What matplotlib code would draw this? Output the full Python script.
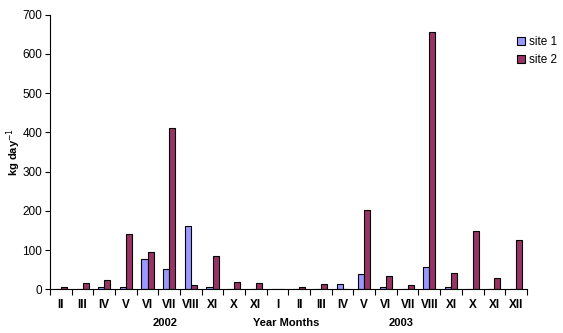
import matplotlib
matplotlib.use('Agg')
from matplotlib import pyplot as plt
import numpy as np

plt.rcParams['font.family'] = ['Liberation Sans', 'DejaVu Sans']

months = ['II', 'III', 'IV', 'V', 'VI', 'VII', 'VIII', 'XI', 'X', 'XI',
          'I', 'II', 'III', 'IV', 'V', 'VI', 'VII', 'VIII', 'XI', 'X', 'XI', 'XII']
site1 = [0, 0, 7, 7, 78, 53, 162, 7, 0, 0,
         2, 1, 2, 13, 38, 7, 1, 56, 5, 0, 0, 0]
site2 = [7, 17, 25, 140, 94, 411, 10, 86, 18, 15,
         1, 7, 13, 2, 201, 33, 10, 657, 41, 148, 28, 125]

x = np.arange(len(months))
w = 0.28

fig = plt.figure(figsize=(5.63, 3.33), dpi=100)
ax = fig.add_axes([0.0888, 0.131, 0.847, 0.825])

ax.bar(x - w/2, site1, w, color='#9999FF', edgecolor='black', linewidth=0.8, label='site 1')
ax.bar(x + w/2, site2, w, color='#993366', edgecolor='black', linewidth=0.8, label='site 2')

ax.set_xlim(-0.5, len(months) - 0.5)
ax.set_ylim(0, 700)
ax.set_yticks(range(0, 701, 100))
ax.tick_params(axis='y', labelsize=8.5, length=3.5, width=0.8, pad=2)

# month labels sit between boundary ticks
ax.set_xticks(np.arange(-0.5, len(months), 1))
ax.set_xticklabels([])
ax.tick_params(axis='x', length=4, width=0.8)
for i, m in enumerate(months):
    ax.text(i, -0.035, m, transform=ax.get_xaxis_transform(), ha='center', va='top',
            fontsize=8.5, fontweight='bold')

ax.spines['top'].set_visible(False)
ax.spines['right'].set_visible(False)
ax.spines['left'].set_linewidth(0.8)
ax.spines['bottom'].set_linewidth(0.8)

ax.text(4.8, -0.105, '2002', transform=ax.get_xaxis_transform(), ha='center', va='top',
        fontsize=8, fontweight='bold')
ax.text(10.4, -0.105, 'Year Months', transform=ax.get_xaxis_transform(), ha='center', va='top',
        fontsize=8, fontweight='bold')
ax.text(15.7, -0.105, '2003', transform=ax.get_xaxis_transform(), ha='center', va='top',
        fontsize=8, fontweight='bold')

fig.text(0.024, 0.545, 'kg day$^{-1}$', rotation=90, ha='center', va='center',
         fontsize=8, fontweight='bold')

ax.legend(loc='upper right', bbox_to_anchor=(1.085, 0.96), frameon=False, fontsize=8.5,
          handlelength=0.7, handleheight=0.7, handletextpad=0.3, labelspacing=0.5)

plt.savefig('out.png', dpi=100)
